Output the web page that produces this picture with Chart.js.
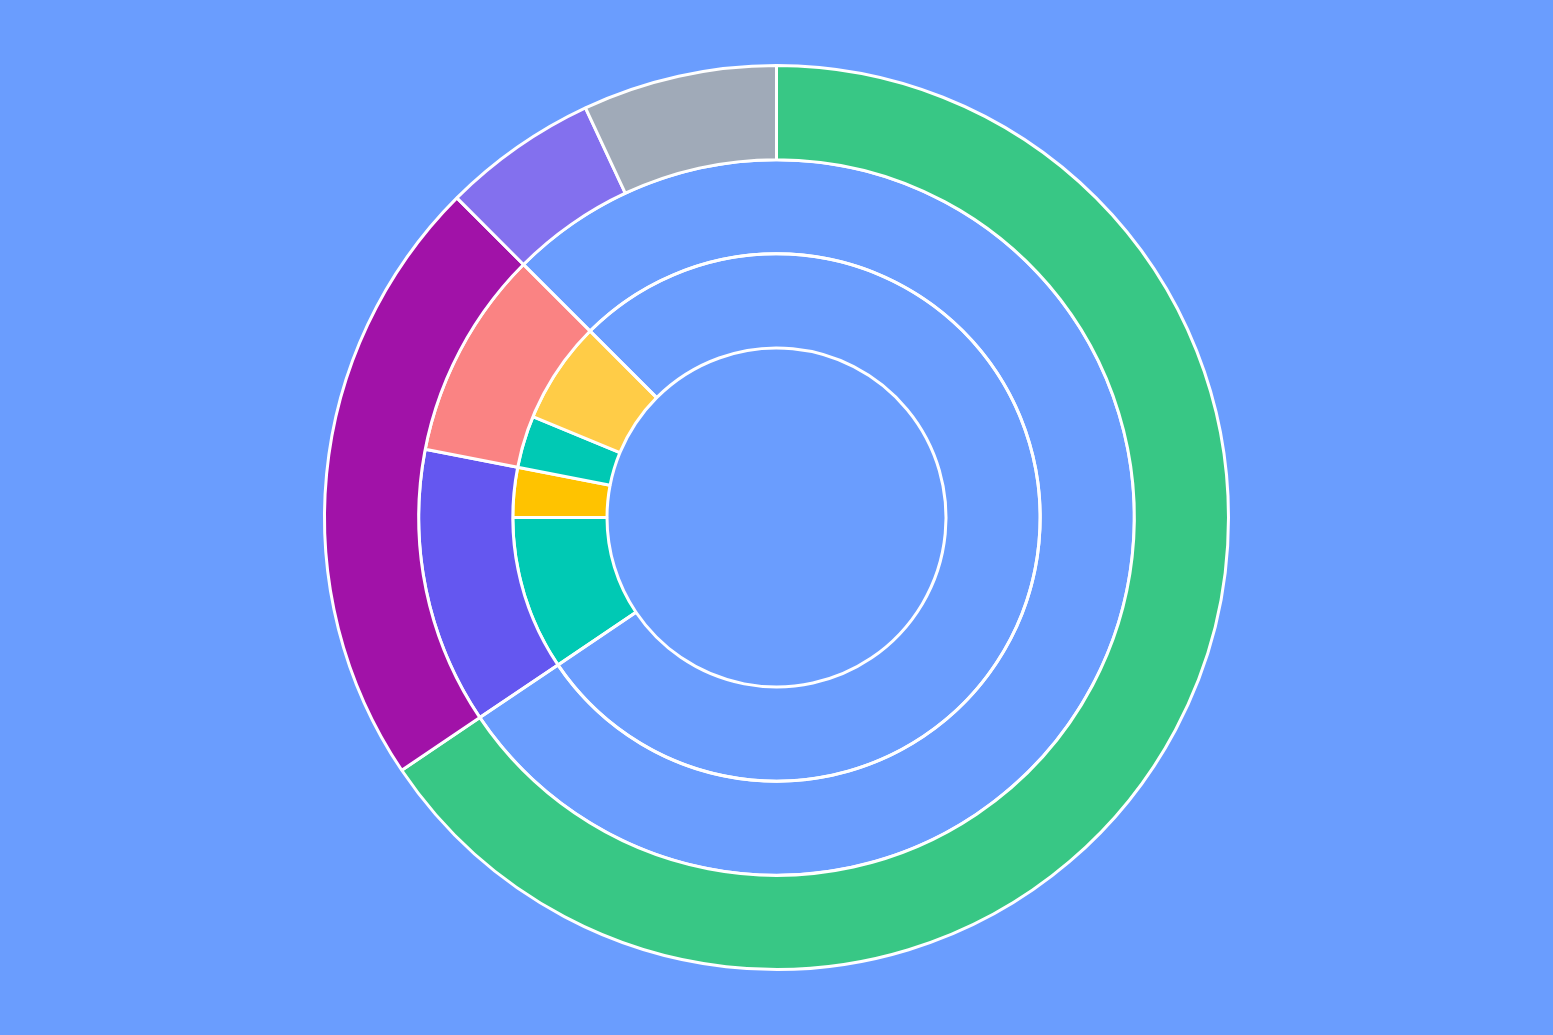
<!DOCTYPE html>
<html>
<head>
<meta charset="utf-8">
<script src="https://cdn.jsdelivr.net/npm/chart.js@4.4.1/dist/chart.umd.min.js"></script>
<style>
  html, body { margin: 0; padding: 0; background: #6a9dfe; }
  #wrap { width: 1553px; height: 1035px; }
</style>
</head>
<body>
<div id="wrap"><canvas id="myChart"></canvas></div>
<script>
// outer ring (full circle)
let outerLabels = ["A", "B", "C", "D"];
let outerValues = [236, 79, 20, 25];
let outerColors = ["#38c785", "#a112a8", "#8370ee", "#a0aab8"];

// middle ring (children of B), rest empty
let middleLabels = ["B1", "B2", ""];
let middleValues = [45, 34, 281];
let middleColors = ["#6457f0", "#fa8383", "transparent"];

// inner ring (children of B1 and B2), rest empty
let innerLabels = ["B1a", "B1b", "B2a", "B2b", ""];
let innerValues = [34, 11, 11.5, 22.5, 281];
let innerColors = ["#00c9b4", "#ffc300", "#00c9b4", "#ffcc47", "transparent"];

let startAngle = 236;

function getChart() {
  var ctx = document.getElementById("myChart").getContext("2d");
  var chart = new Chart(ctx, {
    type: "doughnut",
    data: {
      labels: outerLabels,
      datasets: [
        {
          data: outerValues,
          backgroundColor: outerColors,
          borderColor: "#ffffff",
          borderWidth: 3,
        },
        {
          data: middleValues,
          labels: middleLabels,
          backgroundColor: middleColors,
          borderColor: "#ffffff",
          borderWidth: 3,
          rotation: startAngle,
        },
        {
          data: innerValues,
          labels: innerLabels,
          backgroundColor: innerColors,
          borderColor: "#ffffff",
          borderWidth: 3,
          rotation: startAngle,
        },
      ],
    },
    options: {
      responsive: true,
      maintainAspectRatio: false,
      animation: false,
      cutout: "37.5%",
      layout: { padding: 64 },
      plugins: {
        legend: { display: false },
        tooltip: { enabled: false },
      },
    },
  });
}

getChart();
</script>
</body>
</html>
